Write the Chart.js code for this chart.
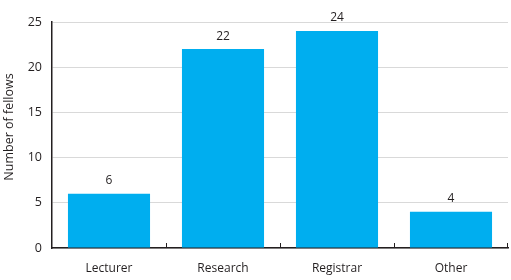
<!DOCTYPE html>
<html><head><meta charset="utf-8">
<script src="https://cdn.jsdelivr.net/npm/chart.js@4/dist/chart.umd.min.js"></script>
<style>html,body{margin:0;padding:0;background:#fff}#w{width:511px;height:280px;position:relative}</style>
</head><body><div id="w"><canvas id="c"></canvas></div>
<script>
const categories = ["Lecturer", "Research", "Registrar", "Other"];
const fellows = [6, 22, 24, 4];
const yTicks = [0, 5, 10, 15, 20, 25];
const yTitle = "Number of fellows";

const FONT = "'Open Sans', sans-serif";
const TXT = "#231f20";

const extras = {
  id: "extras",
  afterDatasetsDraw(chart) {
    const ctx = chart.ctx;
    const meta = chart.getDatasetMeta(0);
    ctx.save();
    ctx.font = "12px " + FONT;
    ctx.fillStyle = TXT;
    ctx.textAlign = "center";
    ctx.textBaseline = "bottom";
    meta.data.forEach((bar, i) => {
      ctx.fillText(String(fellows[i]), bar.x, bar.y - 7);
    });
    // y-axis title
    ctx.save();
    ctx.translate(9, (chart.chartArea.top + chart.chartArea.bottom) / 2 - 8);
    ctx.rotate(-Math.PI / 2);
    ctx.textBaseline = "middle";
    ctx.font = "12.5px " + FONT;
    ctx.fillText(yTitle, 0, 0);
    ctx.restore();
    // small tick marks at category boundaries, pointing up
    const x = chart.scales.x;
    const yb = chart.chartArea.bottom;
    ctx.strokeStyle = "#231f20";
    ctx.lineWidth = 1;
    for (let i = 1; i < categories.length; i++) {
      const px = Math.round((x.getPixelForValue(i - 1) + x.getPixelForValue(i)) / 2) + 0.5;
      ctx.beginPath(); ctx.moveTo(px, yb - 5); ctx.lineTo(px, yb); ctx.stroke();
    }
    const rx = Math.round(x.right) - 0.5;
    ctx.beginPath(); ctx.moveTo(rx, yb - 5); ctx.lineTo(rx, yb); ctx.stroke();
    ctx.restore();
  }
};

new Chart(document.getElementById("c"), {
  type: "bar",
  data: {
    labels: categories,
    datasets: [{
      data: fellows,
      backgroundColor: "#00aeef",
      borderWidth: 0,
      categoryPercentage: 1,
      barPercentage: 0.72
    }]
  },
  options: {
    responsive: true,
    maintainAspectRatio: false,
    animation: false,
    layout: { padding: { top: 22, right: 3, left: 0, bottom: 0 } },
    plugins: { legend: { display: false }, tooltip: { enabled: false } },
    scales: {
      x: {
        grid: { display: false, drawTicks: false },
        border: { display: true, color: "#231f20", width: 1.5 },
        ticks: { color: TXT, font: { family: FONT, size: 12 }, padding: 13 },
        afterFit(s) { s.height = 32; }
      },
      y: {
        min: 0, max: 25,
        afterBuildTicks(s) { s.ticks = yTicks.map(v => ({ value: v })); },
        grid: { color: "#d9d9d9", lineWidth: 1, drawTicks: false },
        border: { display: true, color: "#231f20", width: 1.5 },
        ticks: { color: TXT, font: { family: FONT, size: 12.5 }, padding: 10 },
        afterFit(s) { s.width = 52; }
      }
    }
  },
  plugins: [extras]
});
</script></body></html>
